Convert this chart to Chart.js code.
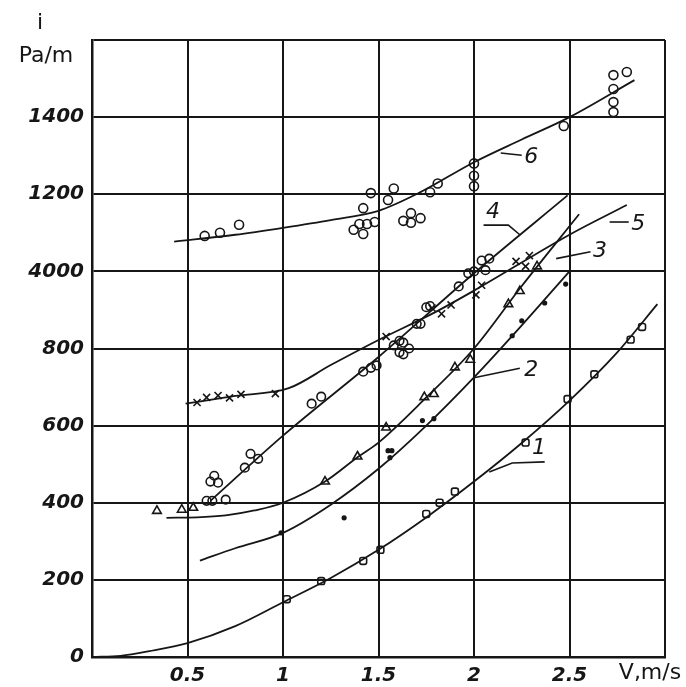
<!DOCTYPE html>
<html>
<head>
<meta charset="utf-8">
<script src="https://cdn.jsdelivr.net/npm/chart.js@4.4.1/dist/chart.umd.min.js"></script>
<style>
  html, body { margin: 0; padding: 0; background: #fff; }
</style>
</head>
<body>
<canvas id="chart" width="686" height="687"></canvas>
<script>
// axis ticks
const xTicks = [0, 0.5, 1, 1.5, 2, 2.5, 3];
const xTickLabels = ['', '0.5', '1', '1.5', '2', '2.5', ''];
const yTicks = [0, 200, 400, 600, 800, 1000, 1200, 1400, 1600];
const yTickLabels = ['0', '200', '400', '600', '800', '4000', '1200', '1400', ''];
const curveNames = ['1', '2', '3', '4', '5', '6'];

// fitted curves [V m/s, i Pa/m]
const curve1 = [[0,0],[0.15,3],[0.3,15],[0.5,36],[0.75,80],[1,142],[1.25,205],[1.5,278],[1.75,362],[2,455],[2.25,555],[2.5,665],[2.75,790],[2.96,915]];
const curve2 = [[0.565,250],[0.75,282],[1,322],[1.25,395],[1.5,488],[1.75,600],[2,725],[2.25,860],[2.5,1000]];
const curve3 = [[0.39,361],[0.55,362],[0.7,367],[0.85,380],[1,400],[1.22,455],[1.39,518],[1.5,556],[1.75,673],[2,800],[2.25,962],[2.55,1148]];
const curve4 = [[0.62,405],[1,574],[1.5,778],[2,995],[2.49,1197]];
const curve5 = [[0.49,657],[0.75,677],[1.03,697],[1.25,757],[1.5,822],[1.8,895],[2,950],[2.5,1095],[2.8,1172]];
const curve6 = [[0.43,1077],[0.75,1095],[1,1113],[1.25,1133],[1.5,1157],[1.71,1203],[2,1283],[2.25,1342],[2.5,1400],[2.84,1496]];

// measured points
const points1 = [[1.02,150],[1.2,197],[1.42,249],[1.51,278],[1.75,371],[1.82,400],[1.9,429],[2.27,556],[2.49,669],[2.63,733],[2.82,823],[2.88,856]];
const points2 = [[0.99,322],[1.32,361],[1.55,535],[1.57,535],[1.56,517],[1.73,613],[1.79,618],[2.2,833],[2.25,872],[2.37,918],[2.48,967]];
const points3 = [[0.34,379],[0.47,382],[0.53,387],[1.22,455],[1.39,520],[1.54,595],[1.74,674],[1.79,682],[1.9,751],[1.98,771],[2.18,915],[2.24,949],[2.33,1013]];
const points4 = [[0.6,405],[0.63,405],[0.7,408],[0.62,455],[0.64,470],[0.66,452],[0.8,491],[0.83,527],[0.87,514],[1.15,657],[1.2,675],[1.42,740],[1.46,750],[1.49,756],[1.58,808],[1.61,820],[1.63,815],[1.66,800],[1.61,790],[1.63,785],[1.7,864],[1.72,864],[1.75,907],[1.77,910],[1.92,961],[1.97,995],[2,1000],[2.04,1028],[2.08,1033],[2.06,1003]];
const points5 = [[0.55,660],[0.6,673],[0.66,678],[0.72,672],[0.78,681],[0.96,683],[1.54,831],[1.78,905],[1.83,890],[1.88,913],[2.01,939],[2.04,964],[2.22,1026],[2.29,1041],[2.27,1013]];
const points6 = [[0.59,1092],[0.67,1100],[0.77,1121],[1.37,1108],[1.4,1123],[1.44,1123],[1.42,1097],[1.48,1128],[1.42,1164],[1.46,1203],[1.58,1215],[1.55,1185],[1.67,1151],[1.63,1131],[1.67,1126],[1.72,1138],[1.77,1205],[1.81,1228],[2,1280],[2,1248],[2,1221],[2.47,1377],[2.73,1413],[2.73,1439],[2.73,1473],[2.73,1509],[2.8,1517]];

const INK = '#161616';
const toXY = arr => arr.map(p => ({ x: p[0], y: p[1] }));

function curveSet(arr) {
    return {
        data: toXY(arr), showLine: true, borderColor: INK, borderWidth: 1.8,
        pointRadius: 0, cubicInterpolationMode: 'monotone', fill: false
    };
}
function pointSet(arr, style, radius, filled) {
    return {
        data: toXY(arr), showLine: false, pointStyle: style, pointRadius: radius,
        borderColor: INK, borderWidth: 1.6,
        backgroundColor: filled ? INK : 'rgba(0,0,0,0)'
    };
}

// curve numbers with their leader strokes, in data units
const curveTags = [
    { at: [2.34, 541], leader: [[2.08, 480], [2.2, 503], [2.37, 506]] },
    { at: [2.3, 744], leader: [[2.0, 724], [2.24, 749]] },
    { at: [2.66, 1051], leader: [[2.43, 1033], [2.61, 1051]] },
    { at: [2.1, 1154], leader: [[2.24, 1095], [2.18, 1120], [2.05, 1120]] },
    { at: [2.86, 1122], leader: [[2.71, 1128], [2.81, 1128]] },
    { at: [2.3, 1296], leader: [[2.14, 1307], [2.25, 1301]] }
];

const annotate = {
    id: 'annotate',
    afterDraw(chart) {
        const { ctx, scales: { x, y } } = chart;
        ctx.save();
        ctx.fillStyle = INK;
        ctx.strokeStyle = INK;
        ctx.textAlign = 'center';
        ctx.textBaseline = 'middle';

        ctx.font = '22px "DejaVu Sans"';
        ctx.fillText('i', 40, 23);
        ctx.fillText('Pa/m', 46, 56);
        ctx.fillText('V,m/s', 650, 673);

        ctx.lineWidth = 1.6;
        ctx.font = 'italic 22px "DejaVu Sans"';
        curveTags.forEach((t, k) => {
            ctx.beginPath();
            t.leader.forEach((p, j) => {
                const px = x.getPixelForValue(p[0]), py = y.getPixelForValue(p[1]);
                if (j === 0) ctx.moveTo(px, py); else ctx.lineTo(px, py);
            });
            ctx.stroke();
            ctx.fillText(curveNames[k], x.getPixelForValue(t.at[0]), y.getPixelForValue(t.at[1]));
        });
        ctx.restore();
    }
};

const tickFont = { family: 'DejaVu Sans', size: 20, style: 'italic', weight: 'bold' };

new Chart(document.getElementById('chart'), {
    type: 'scatter',
    data: {
        datasets: [
            curveSet(curve1), curveSet(curve2), curveSet(curve3),
            curveSet(curve4), curveSet(curve5), curveSet(curve6),
            pointSet(points1, 'rectRounded', 4, false),
            pointSet(points2, 'circle', 1.8, true),
            pointSet(points3, 'triangle', 5, false),
            pointSet(points4, 'circle', 4.3, false),
            pointSet(points5, 'crossRot', 5, false),
            pointSet(points6, 'circle', 4.5, false)
        ]
    },
    options: {
        responsive: false,
        animation: false,
        layout: { padding: { top: 40, right: 21, left: 0, bottom: 0 } },
        plugins: { legend: { display: false }, tooltip: { enabled: false } },
        scales: {
            x: {
                type: 'linear', min: 0, max: 3,
                afterBuildTicks: s => { s.ticks = xTicks.map(v => ({ value: v })); },
                afterFit: s => { s.height = 30; },
                grid: { color: INK, lineWidth: 2, drawTicks: false },
                border: { color: INK, width: 2.5 },
                ticks: {
                    padding: 7, maxRotation: 0, autoSkip: false, color: INK, font: tickFont,
                    callback: v => { const k = xTicks.indexOf(v); return k < 0 ? '' : xTickLabels[k]; }
                }
            },
            y: {
                type: 'linear', min: 0, max: 1600,
                afterBuildTicks: s => { s.ticks = yTicks.map(v => ({ value: v })); },
                afterFit: s => { s.width = 92; },
                grid: { color: INK, lineWidth: 2, drawTicks: false },
                border: { color: INK, width: 2.5 },
                ticks: {
                    padding: 8, autoSkip: false, color: INK, font: tickFont,
                    callback: v => { const k = yTicks.indexOf(v); return k < 0 ? '' : yTickLabels[k]; }
                }
            }
        }
    },
    plugins: [annotate]
});
</script>
</body>
</html>
